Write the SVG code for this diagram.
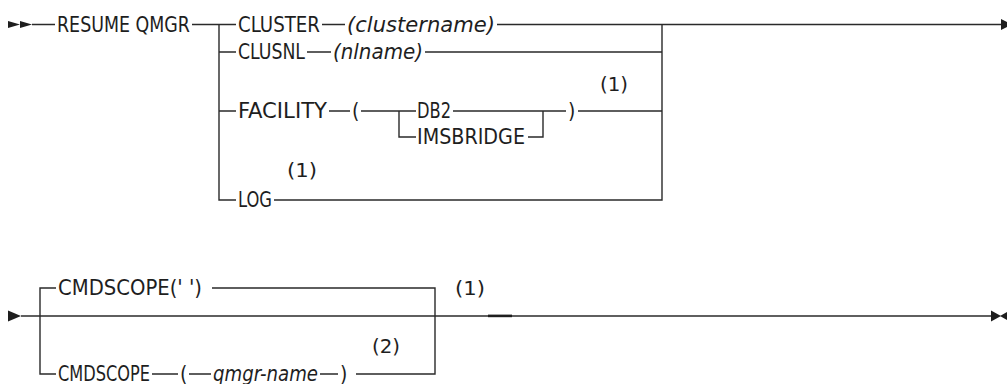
<svg xmlns="http://www.w3.org/2000/svg" width="1007" height="384" viewBox="0 0 1007 384">
<style>
.l{stroke:#2a2a2a;stroke-width:1.4;fill:none}
.t{font-family:"Liberation Sans Narrow","DejaVu Sans Condensed","DejaVu Sans",sans-serif;font-stretch:condensed;font-size:21px;fill:#1e1e1e}
.i{font-style:italic}
.n{font-family:"Liberation Sans Narrow","DejaVu Sans Condensed","DejaVu Sans",sans-serif;font-stretch:condensed;font-size:19px;fill:#1e1e1e}
.a{fill:#1e1e1e}
</style>
<g id="connectors">
<polygon class="a" points="8,21 20,24.5 8,28"/>
<polygon class="a" points="20,21 32,24.5 20,28"/>
<path class="l" d="M32,24.5H55M192,24.5H236M219,24.5V200H236M219,52H236M219,111H236"/>
<path class="l" d="M322,24.5H345M497,24.5H1002"/>
<path class="l" d="M307,52H331M425,52H662"/>
<path class="l" d="M329,111H350M361,111H416M399,111V137H416M453,111H566M528,137H543V111M578,111H662"/>
<path class="l" d="M274,200H662V24.5"/>
<polygon class="a" points="1001,19 1012,24.5 1001,30"/>
<polygon class="a" points="8,310.5 21,316 8,321.5"/>
<path class="l" d="M21,316H992"/>
<path class="l" d="M56,288H40V374H56M212,288H435V374H356M152,374H178M189,374H211M320,374H338"/>
<rect class="a" x="488" y="314.6" width="24" height="2.6"/>
<polygon class="a" points="991,310.5 1001,316 991,321.5"/>
<polygon class="a" points="1007,312 1000,316 1007,320"/>
</g>
<g id="resume"><text class="t" x="57" y="31.5" textLength="133" lengthAdjust="spacingAndGlyphs">RESUME QMGR</text></g>
<g id="cluster"><text class="t" x="238" y="31.5" textLength="82" lengthAdjust="spacingAndGlyphs">CLUSTER</text><text class="t i" x="347" y="31.5" textLength="148" lengthAdjust="spacingAndGlyphs">(clustername)</text></g>
<g id="clusnl"><text class="t" x="238" y="59" textLength="67" lengthAdjust="spacingAndGlyphs">CLUSNL</text><text class="t i" x="333" y="59" textLength="90" lengthAdjust="spacingAndGlyphs">(nlname)</text></g>
<g id="facility"><text class="t" x="238" y="118" textLength="89" lengthAdjust="spacingAndGlyphs">FACILITY</text><text class="t" x="352" y="118">(</text><text class="t" x="417" y="118" textLength="34" lengthAdjust="spacingAndGlyphs">DB2</text><text class="t" x="417" y="144" textLength="108" lengthAdjust="spacingAndGlyphs">IMSBRIDGE</text><text class="t" x="568" y="118">)</text><text class="n" x="600" y="91" textLength="28" lengthAdjust="spacingAndGlyphs">(1)</text></g>
<g id="log"><text class="t" x="238" y="207" textLength="34" lengthAdjust="spacingAndGlyphs">LOG</text><text class="n" x="287" y="177" textLength="30" lengthAdjust="spacingAndGlyphs">(1)</text></g>
<g id="cmdscope-default"><text class="t" x="58" y="295" textLength="144" lengthAdjust="spacingAndGlyphs">CMDSCOPE(' ')</text><text class="n" x="455" y="295" textLength="30" lengthAdjust="spacingAndGlyphs">(1)</text></g>
<g id="cmdscope-qmgr"><text class="t" x="58" y="381" textLength="92" lengthAdjust="spacingAndGlyphs">CMDSCOPE</text><text class="t" x="180" y="381">(</text><text class="t i" x="213" y="381" textLength="105" lengthAdjust="spacingAndGlyphs">qmgr-name</text><text class="t" x="340" y="381">)</text><text class="n" x="372" y="353" textLength="28" lengthAdjust="spacingAndGlyphs">(2)</text></g>
</svg>
